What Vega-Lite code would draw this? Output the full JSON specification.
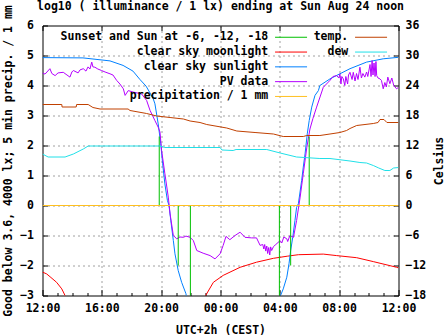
{
  "$schema": "https://vega.github.io/schema/vega-lite/v6.json",
  "width": 356,
  "height": 270,
  "autosize": {"type": "none"},
  "padding": {"left": 42.5, "top": 25.5, "right": 48.5, "bottom": 39.5},
  "background": "white",
  "title": {
    "text": "log10 ( illuminance / 1 lx) ending at Sun Aug 24 noon",
    "font": "DejaVu Sans Mono", "fontSize": 11.5, "fontWeight": "bold", "color": "black",
    "baseline": "alphabetic", "offset": 0, "dy": 17, "anchor": "middle"
  },
  "datasets": {
    "sun": [
      {"h": 0, "v": 4.93}, {"h": 2.73, "v": 4.92}, {"h": 4.55, "v": 4.82}, {"h": 5.43, "v": 4.67}, {"h": 6.1, "v": 4.48},
      {"h": 6.57, "v": 4.2}, {"h": 6.98, "v": 3.98}, {"h": 7.25, "v": 3.75}, {"h": 7.47, "v": 3.55}, {"h": 7.58, "v": 3.39},
      {"h": 7.8, "v": 2.72}, {"h": 7.97, "v": 2.06}, {"h": 8.1, "v": 1.39}, {"h": 8.25, "v": 0.72}, {"h": 8.42, "v": 0.17},
      {"h": 8.53, "v": 0.0}, {"h": 8.65, "v": -0.5}, {"h": 8.82, "v": -1.17}, {"h": 8.93, "v": -1.61}, {"h": 9.15, "v": -2.17},
      {"h": 9.38, "v": -2.56}, {"h": 9.67, "v": -2.94}, {"h": 9.83, "v": -3.4}, {"h": 16.0, "v": -3.4}, {"h": 16.05, "v": -3.0},
      {"h": 16.23, "v": -2.78}, {"h": 16.47, "v": -2.39}, {"h": 16.62, "v": -1.94}, {"h": 16.73, "v": -1.5}, {"h": 16.87, "v": -1.06},
      {"h": 17.02, "v": -0.5}, {"h": 17.13, "v": -0.06}, {"h": 17.25, "v": 0.06}, {"h": 17.47, "v": 0.83}, {"h": 17.58, "v": 1.28},
      {"h": 17.7, "v": 1.72}, {"h": 17.85, "v": 2.39}, {"h": 17.98, "v": 2.83}, {"h": 18.15, "v": 3.28}, {"h": 18.37, "v": 3.67},
      {"h": 18.6, "v": 3.83}, {"h": 18.7, "v": 4.0}, {"h": 19.38, "v": 4.22}, {"h": 20.05, "v": 4.39}, {"h": 20.73, "v": 4.56},
      {"h": 21.85, "v": 4.78}, {"h": 22.97, "v": 4.89}, {"h": 24, "v": 4.94}
    ],
    "moon": [
      {"h": 0, "v": -2.22}, {"h": 0.28, "v": -2.28}, {"h": 0.57, "v": -2.4}, {"h": 0.95, "v": -2.56}, {"h": 1.3, "v": -2.78},
      {"h": 1.52, "v": -3.0}, {"h": 1.67, "v": -3.4}, {"h": 10.87, "v": -3.4}, {"h": 11.0, "v": -3.0}, {"h": 11.52, "v": -2.56},
      {"h": 12.18, "v": -2.33}, {"h": 13.32, "v": -2.06}, {"h": 14.43, "v": -1.89}, {"h": 15.57, "v": -1.76}, {"h": 16.5, "v": -1.69},
      {"h": 17.25, "v": -1.64}, {"h": 18.93, "v": -1.62}, {"h": 19.83, "v": -1.67}, {"h": 21.18, "v": -1.74}, {"h": 22.3, "v": -1.87},
      {"h": 23.88, "v": -2.06}, {"h": 24, "v": -2.08}
    ],
    "pv": [
      {"h": 0, "v": 4.42}, {"h": 0.17, "v": 4.38}, {"h": 0.3, "v": 4.45}, {"h": 0.5, "v": 4.56}, {"h": 0.63, "v": 4.4},
      {"h": 0.85, "v": 4.33}, {"h": 1.05, "v": 4.42}, {"h": 1.4, "v": 4.44}, {"h": 1.65, "v": 4.35}, {"h": 1.85, "v": 4.28},
      {"h": 1.98, "v": 4.45}, {"h": 2.08, "v": 4.5}, {"h": 2.4, "v": 4.42}, {"h": 2.53, "v": 4.52}, {"h": 2.75, "v": 4.56},
      {"h": 2.93, "v": 4.48}, {"h": 3.07, "v": 4.62}, {"h": 3.2, "v": 4.55}, {"h": 3.32, "v": 4.78}, {"h": 3.4, "v": 4.62},
      {"h": 3.53, "v": 4.61}, {"h": 3.73, "v": 4.55}, {"h": 3.98, "v": 4.5}, {"h": 4.22, "v": 4.45}, {"h": 4.55, "v": 4.39},
      {"h": 4.75, "v": 4.35}, {"h": 5.0, "v": 4.17}, {"h": 5.22, "v": 4.05}, {"h": 5.45, "v": 3.89}, {"h": 5.57, "v": 3.67},
      {"h": 5.78, "v": 3.83}, {"h": 6.12, "v": 3.78}, {"h": 6.68, "v": 3.72}, {"h": 7.02, "v": 3.5}, {"h": 7.25, "v": 3.17},
      {"h": 7.58, "v": 2.83}, {"h": 7.8, "v": 2.61}, {"h": 7.92, "v": 2.45}, {"h": 8.03, "v": 1.83}, {"h": 8.25, "v": 1.06},
      {"h": 8.48, "v": 0.28}, {"h": 8.6, "v": -0.28}, {"h": 8.82, "v": -1.0}, {"h": 9.05, "v": -1.11}, {"h": 9.27, "v": -1.05},
      {"h": 9.5, "v": -1.06}, {"h": 9.67, "v": -1.02}, {"h": 9.95, "v": -1.06}, {"h": 10.17, "v": -1.17}, {"h": 10.4, "v": -1.5},
      {"h": 10.83, "v": -1.59}, {"h": 11.3, "v": -1.67}, {"h": 11.63, "v": -1.78}, {"h": 11.97, "v": -1.61}, {"h": 12.18, "v": -1.33},
      {"h": 12.37, "v": -1.03}, {"h": 12.63, "v": -1.14}, {"h": 12.98, "v": -1.0}, {"h": 13.32, "v": -0.89}, {"h": 13.65, "v": -1.06},
      {"h": 14.1, "v": -1.08}, {"h": 14.43, "v": -1.08}, {"h": 14.67, "v": -1.33}, {"h": 14.85, "v": -1.3}, {"h": 14.92, "v": -1.45},
      {"h": 14.98, "v": -1.3}, {"h": 15.05, "v": -1.52}, {"h": 15.12, "v": -1.35}, {"h": 15.18, "v": -1.6}, {"h": 15.25, "v": -1.4},
      {"h": 15.32, "v": -1.65}, {"h": 15.38, "v": -1.38}, {"h": 15.45, "v": -1.5}, {"h": 15.57, "v": -1.37}, {"h": 15.73, "v": -1.3},
      {"h": 16.02, "v": -1.17}, {"h": 16.13, "v": -1.25}, {"h": 16.27, "v": -1.05}, {"h": 16.47, "v": -1.11}, {"h": 16.53, "v": -1.2},
      {"h": 16.68, "v": -1.0}, {"h": 16.92, "v": -1.06}, {"h": 17.13, "v": -0.5}, {"h": 17.37, "v": 0.28}, {"h": 17.58, "v": 1.06},
      {"h": 17.82, "v": 1.94}, {"h": 18.03, "v": 2.55}, {"h": 18.23, "v": 2.9}, {"h": 18.48, "v": 3.28}, {"h": 18.93, "v": 3.94},
      {"h": 19.38, "v": 4.17}, {"h": 19.58, "v": 4.3}, {"h": 19.83, "v": 4.33}, {"h": 19.98, "v": 4.25}, {"h": 20.05, "v": 4.39},
      {"h": 20.12, "v": 4.05}, {"h": 20.18, "v": 4.3}, {"h": 20.28, "v": 4.22}, {"h": 20.38, "v": 4.0}, {"h": 20.45, "v": 4.3},
      {"h": 20.57, "v": 4.05}, {"h": 20.63, "v": 4.35}, {"h": 20.73, "v": 4.44}, {"h": 20.87, "v": 4.2}, {"h": 20.95, "v": 4.44},
      {"h": 21.07, "v": 4.15}, {"h": 21.17, "v": 4.4}, {"h": 21.27, "v": 4.2}, {"h": 21.4, "v": 4.61}, {"h": 21.5, "v": 4.25},
      {"h": 21.6, "v": 4.4}, {"h": 21.73, "v": 4.28}, {"h": 21.85, "v": 4.45}, {"h": 21.93, "v": 4.3}, {"h": 22.08, "v": 4.7},
      {"h": 22.15, "v": 4.3}, {"h": 22.22, "v": 4.83}, {"h": 22.28, "v": 4.35}, {"h": 22.35, "v": 4.75}, {"h": 22.42, "v": 4.3},
      {"h": 22.48, "v": 4.8}, {"h": 22.53, "v": 4.33}, {"h": 22.62, "v": 4.25}, {"h": 22.75, "v": 4.22}, {"h": 22.85, "v": 4.17},
      {"h": 22.97, "v": 3.89}, {"h": 23.08, "v": 4.1}, {"h": 23.18, "v": 3.95}, {"h": 23.28, "v": 4.28}, {"h": 23.42, "v": 4.06},
      {"h": 23.55, "v": 4.25}, {"h": 23.68, "v": 4.0}, {"h": 23.87, "v": 3.89}, {"h": 24, "v": 3.94}
    ],
    "twilight": [
      {"h": 7.87, "v": 2.3}, {"h": 9.15, "v": -2.0}, {"h": 9.97, "v": -3.3},
      {"h": 15.97, "v": -3.3}, {"h": 16.73, "v": -2.0}, {"h": 17.98, "v": 2.3}
    ],
    "precip": [
      {"h": 0, "v": 0}, {"h": 24, "v": 0}
    ],
    "temp": [
      {"h": 0, "c": 20.2}, {"h": 1.3, "c": 20.2}, {"h": 1.32, "c": 19.7}, {"h": 2.27, "c": 19.7}, {"h": 2.3, "c": 20.2},
      {"h": 3.08, "c": 20.2}, {"h": 3.4, "c": 19.6}, {"h": 3.88, "c": 19.3}, {"h": 5.77, "c": 19.3}, {"h": 5.9, "c": 19.0},
      {"h": 7.02, "c": 18.4}, {"h": 7.7, "c": 17.9}, {"h": 8.6, "c": 17.6}, {"h": 9.5, "c": 17.3}, {"h": 9.95, "c": 16.9},
      {"h": 10.62, "c": 16.6}, {"h": 11.07, "c": 16.2}, {"h": 12.42, "c": 15.5}, {"h": 13.1, "c": 14.9}, {"h": 14.33, "c": 14.6},
      {"h": 15.57, "c": 14.3}, {"h": 16.23, "c": 13.8}, {"h": 17.58, "c": 13.8}, {"h": 17.82, "c": 14.0}, {"h": 18.7, "c": 14.0},
      {"h": 19.38, "c": 14.3}, {"h": 20.05, "c": 14.6}, {"h": 20.5, "c": 15.0}, {"h": 20.73, "c": 15.4}, {"h": 21.18, "c": 16.0},
      {"h": 22.3, "c": 16.4}, {"h": 22.62, "c": 16.6}, {"h": 22.75, "c": 17.2}, {"h": 23.02, "c": 17.2}, {"h": 23.22, "c": 16.6},
      {"h": 24, "c": 16.6}
    ],
    "dew": [
      {"h": 0, "c": 10.3}, {"h": 0.38, "c": 9.7}, {"h": 1.52, "c": 9.7}, {"h": 2.08, "c": 10.3}, {"h": 2.75, "c": 11.3},
      {"h": 3.08, "c": 11.9}, {"h": 7.92, "c": 11.9}, {"h": 8.25, "c": 11.6}, {"h": 11.97, "c": 11.6}, {"h": 12.1, "c": 11.1},
      {"h": 12.85, "c": 11.0}, {"h": 13.05, "c": 11.2}, {"h": 15.12, "c": 11.2}, {"h": 16.02, "c": 10.5}, {"h": 17.13, "c": 9.7},
      {"h": 18.7, "c": 9.4}, {"h": 19.38, "c": 9.4}, {"h": 20.73, "c": 8.9}, {"h": 21.4, "c": 8.6}, {"h": 21.85, "c": 8.5},
      {"h": 22.3, "c": 8.0}, {"h": 22.67, "c": 7.5}, {"h": 23.08, "c": 7.0}, {"h": 23.42, "c": 7.0}, {"h": 23.67, "c": 7.5},
      {"h": 24, "c": 7.6}
    ]
  },
  "layer": [
    {
      "encoding": {
        "x": {
          "field": "h", "type": "quantitative",
          "scale": {"domain": [0, 24], "nice": false, "zero": false},
          "axis": {
            "orient": "bottom", "title": "UTC+2h (CEST)",
            "values": [0, 1, 2, 3, 4, 5, 6, 7, 8, 9, 10, 11, 12, 13, 14, 15, 16, 17, 18, 19, 20, 21, 22, 23, 24],
            "labelExpr": "datum.value % 4 === 0 ? (((datum.value + 12) % 24) < 10 ? '0' : '') + ((datum.value + 12) % 24) + ':00' : ''",
            "tickSize": {"condition": {"test": "datum.value % 4 === 0", "value": -6}, "value": -3},
            "grid": true,
            "gridOpacity": {"condition": {"test": "datum.value % 4 === 0 && datum.value > 0 && datum.value < 24", "value": 1}, "value": 0},
            "labelPadding": 13, "titlePadding": 7, "labelOverlap": false, "labelFlush": false
          }
        },
        "y": {
          "field": "v", "type": "quantitative",
          "scale": {"domain": [-3, 6], "nice": false, "zero": false},
          "axis": {
            "orient": "left", "title": "Good below 3.6, 4000 lx; 5 min precip. / 1 mm",
            "values": [-3, -2, -1, 0, 1, 2, 3, 4, 5, 6], "tickSize": -5, "labelPadding": 14, "titlePadding": 6,
            "grid": true,
            "gridOpacity": {"condition": {"test": "datum.value === -3 || datum.value === 6", "value": 0}, "value": 1}
          }
        }
      },
      "layer": [
        {
          "data": {"name": "moon"},
          "mark": {"type": "line", "clip": true, "strokeWidth": 1},
          "encoding": {"color": {"datum": "clear sky moonlight", "type": "nominal",
            "scale": {"domain": ["Sunset and Sun at -6, -12, -18", "clear sky moonlight", "clear sky sunlight", "PV data", "precipitation / 1 mm"], "range": ["#00c000", "#ff0000", "#0080ff", "#b400ff", "#ffc020"]},
            "legend": {"title": null, "orient": "none", "legendX": 242.8, "legendY": 6, "symbolType": "M-4,0H4", "symbolSize": 64, "symbolStrokeWidth": 1, "labelAlign": "right", "labelOffset": -28.5, "labelLimit": 400, "rowPadding": 1.8}}}
        },
        {
          "data": {"name": "sun"},
          "mark": {"type": "line", "clip": true, "strokeWidth": 1},
          "encoding": {"color": {"datum": "clear sky sunlight", "type": "nominal"}}
        },
        {
          "data": {"name": "pv"},
          "mark": {"type": "line", "clip": true, "strokeWidth": 1},
          "encoding": {"color": {"datum": "PV data", "type": "nominal"}}
        },
        {
          "data": {"name": "twilight"},
          "mark": {"type": "rule", "clip": true, "strokeWidth": 1},
          "encoding": {"y2": {"datum": 0}, "color": {"datum": "Sunset and Sun at -6, -12, -18", "type": "nominal"}}
        },
        {
          "data": {"name": "precip"},
          "mark": {"type": "line", "clip": true, "strokeWidth": 1},
          "encoding": {"color": {"datum": "precipitation / 1 mm", "type": "nominal"}}
        }
      ]
    },
    {
      "encoding": {
        "x": {
          "field": "h", "type": "quantitative",
          "scale": {"domain": [0, 24], "nice": false, "zero": false},
          "axis": {"orient": "top", "title": null, "labels": false, "grid": false, "values": [0, 4, 8, 12, 16, 20, 24], "tickSize": -5}
        },
        "y": {
          "field": "c", "type": "quantitative",
          "scale": {"domain": [-18, 36], "nice": false, "zero": false},
          "axis": {
            "orient": "right", "title": "Celsius", "values": [-18, -12, -6, 0, 6, 12, 18, 24, 30, 36],
            "tickSize": -5, "labelPadding": 11.5, "labelAlign": "left",
            "labelExpr": "datum.value < 0 ? datum.label : '\u00a0' + datum.label",
            "grid": false, "titleAngle": 270, "titleBaseline": "top", "titlePadding": 8
          }
        }
      },
      "layer": [
        {
          "data": {"name": "temp"},
          "mark": {"type": "line", "clip": true, "strokeWidth": 1},
          "encoding": {"color": {"datum": "temp.", "type": "nominal",
            "scale": {"domain": ["temp.", "dew"], "range": ["#c04000", "#20e0e8"]},
            "legend": {"title": null, "orient": "none", "legendX": 322.8, "legendY": 6, "symbolType": "M-4,0H4", "symbolSize": 64, "symbolStrokeWidth": 1, "labelAlign": "right", "labelOffset": -28.5, "labelLimit": 400, "rowPadding": 1.8}}}
        },
        {
          "data": {"name": "dew"},
          "mark": {"type": "line", "clip": true, "strokeWidth": 1},
          "encoding": {"color": {"datum": "dew", "type": "nominal"}}
        }
      ]
    }
  ],
  "resolve": {"scale": {"x": "independent", "y": "independent", "color": "independent"}},
  "config": {
    "view": {"stroke": "black", "strokeWidth": 1},
    "axis": {
      "domain": false, "tickColor": "black", "tickWidth": 1,
      "labelFont": "DejaVu Sans Mono", "labelFontSize": 11.5, "labelFontWeight": "bold", "labelColor": "black",
      "titleFont": "DejaVu Sans Mono", "titleFontSize": 11.5, "titleFontWeight": "bold", "titleColor": "black",
      "gridColor": "#a0a0a0", "gridDash": [2, 3], "gridWidth": 1
    },
    "legend": {
      "labelFont": "DejaVu Sans Mono", "labelFontSize": 11.5, "labelFontWeight": "bold", "labelColor": "black"
    }
  }
}
